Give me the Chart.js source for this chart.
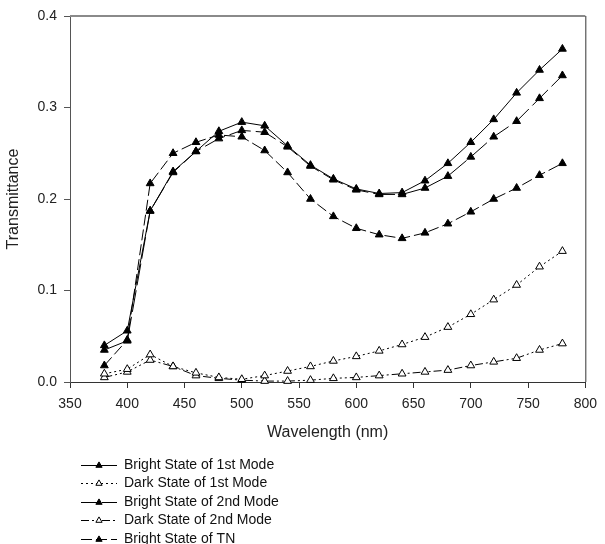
<!DOCTYPE html>
<html>
<head>
<meta charset="utf-8">
<script src="https://cdn.jsdelivr.net/npm/chart.js@4.4.0/dist/chart.umd.min.js"></script>
<style>
  html, body { margin: 0; padding: 0; background: #fff; }
  #wrap { width: 605px; height: 544px; }
</style>
</head>
<body>
<div id="wrap"><canvas id="grafica" width="605" height="544"></canvas></div>
<script>
/* Transmittance vs wavelength, five series */

const wavelengths = [380, 400, 420, 440, 460, 480, 500, 520, 540, 560, 580, 600, 620, 640, 660, 680, 700, 720, 740, 760, 780];

const brightMode1 = [0.040, 0.056, 0.187, 0.230, 0.252, 0.274, 0.284, 0.280, 0.258, 0.237, 0.222, 0.211, 0.206, 0.207, 0.220, 0.239, 0.262, 0.287, 0.316, 0.341, 0.364];
const darkMode1   = [0.009, 0.014, 0.030, 0.017, 0.010, 0.005, 0.003, 0.007, 0.012, 0.017, 0.023, 0.028, 0.034, 0.041, 0.049, 0.060, 0.074, 0.090, 0.106, 0.126, 0.143];
const brightMode2 = [0.035, 0.045, 0.187, 0.229, 0.252, 0.266, 0.275, 0.273, 0.257, 0.236, 0.221, 0.210, 0.205, 0.205, 0.212, 0.225, 0.246, 0.268, 0.285, 0.310, 0.335];
const darkMode2   = [0.005, 0.011, 0.024, 0.017, 0.007, 0.004, 0.002, 0.001, 0.001, 0.002, 0.004, 0.005, 0.007, 0.009, 0.011, 0.013, 0.018, 0.022, 0.026, 0.035, 0.042];
const brightTN    = [0.018, 0.046, 0.217, 0.250, 0.262, 0.270, 0.268, 0.253, 0.229, 0.200, 0.181, 0.168, 0.161, 0.157, 0.163, 0.173, 0.186, 0.200, 0.212, 0.226, 0.239];

const seriesLabels = ['Bright State of 1st Mode', 'Dark State of 1st Mode', 'Bright State of 2nd Mode', 'Dark State of 2nd Mode', 'Bright State of TN'];
const xTicks = [350, 400, 450, 500, 550, 600, 650, 700, 750, 800];
const yTicks = [0, 0.1, 0.2, 0.3, 0.4];

const FONT = '"Liberation Sans", Arial, sans-serif';
const INK = '#222';

const toPoints = (vals) => wavelengths.map((w, i) => ({ x: w, y: vals[i] }));

function serie(label, vals, dash, legendOffset, filled) {
  return {
    label,
    data: toPoints(vals),
    borderColor: '#000',
    borderWidth: 1,
    borderDash: dash,
    legendOffset,          // dash phase used only in the legend sample
    tension: 0,
    fill: false,
    clip: false,
    pointStyle: 'triangle',
    pointRadius: 4.5,
    pointBorderWidth: 1,
    pointBorderColor: '#000',
    pointBackgroundColor: filled ? '#000' : '#fff'
  };
}

// top / right frame of the plot box
const marco = {
  id: 'marco',
  afterDraw(chart) {
    const { ctx, chartArea: a } = chart;
    ctx.save();
    ctx.strokeStyle = '#8a8a8a';
    ctx.lineWidth = 2;
    ctx.beginPath(); ctx.moveTo(a.left, a.top); ctx.lineTo(a.right, a.top); ctx.stroke();
    ctx.strokeStyle = '#333';
    ctx.lineWidth = 1;
    ctx.beginPath(); ctx.moveTo(a.right + 0.5, a.top); ctx.lineTo(a.right + 0.5, a.bottom); ctx.stroke();
    ctx.restore();
  }
};

// legend stacked under the axis title
const leyenda = {
  id: 'leyenda',
  afterDraw(chart) {
    const ctx = chart.ctx;
    ctx.save();
    ctx.font = '14px ' + FONT;
    ctx.textBaseline = 'middle';
    chart.data.datasets.forEach((ds, i) => {
      const y = Math.round(465 + i * 18.4) + 0.5;
      ctx.strokeStyle = '#000';
      ctx.lineWidth = 1;
      ctx.setLineDash(ds.borderDash || []);
      ctx.lineDashOffset = ds.legendOffset || 0;
      ctx.beginPath(); ctx.moveTo(81, y); ctx.lineTo(117, y); ctx.stroke();
      ctx.setLineDash([]);
      ctx.fillStyle = ds.pointBackgroundColor;
      Chart.helpers.drawPoint(ctx, { pointStyle: 'triangle', radius: 3.6, borderWidth: 1, rotation: 0 }, 99, y);
      ctx.fillStyle = '#111';
      ctx.fillText(ds.label, 124, y);
    });
    ctx.restore();
  }
};

new Chart(document.getElementById('grafica').getContext('2d'), {
  type: 'line',
  data: {
    datasets: [
      serie(seriesLabels[0], brightMode1, [], 0, true),
      serie(seriesLabels[1], darkMode1, [2, 3], 0, false),
      serie(seriesLabels[2], brightMode2, [22, 5], 6, true),
      serie(seriesLabels[3], darkMode2, [8, 3, 2, 3, 2, 3], 0, false),
      serie(seriesLabels[4], brightTN, [11, 4], 0, true)
    ]
  },
  options: {
    responsive: false,
    animation: false,
    devicePixelRatio: 1,
    layout: { padding: { top: 16, right: 13, bottom: 102, left: 0 } },
    plugins: { legend: { display: false }, tooltip: { enabled: false } },
    scales: {
      x: {
        type: 'linear', min: 350, max: 800,
        afterBuildTicks: (s) => { s.ticks = xTicks.map(v => ({ value: v })); },
        afterFit: (s) => { s.height = 60; },
        ticks: { font: { family: FONT, size: 14 }, color: INK, padding: 8, maxRotation: 0, callback: (v) => String(v) },
        grid: { drawOnChartArea: false, tickLength: 6, color: '#333' },
        border: { color: '#333' },
        title: { display: true, text: 'Wavelength (nm)', color: INK, font: { family: FONT, size: 16 }, padding: 0 }
      },
      y: {
        min: 0, max: 0.4,
        afterBuildTicks: (s) => { s.ticks = yTicks.map(v => ({ value: v })); },
        afterFit: (s) => { s.width = 70; },
        ticks: { font: { family: FONT, size: 14 }, color: INK, padding: 7, callback: (v) => Number(v).toFixed(1) },
        grid: { drawOnChartArea: false, tickLength: 6, color: '#555' },
        border: { color: '#555' },
        title: { display: true, text: 'Transmittance', color: INK, font: { family: FONT, size: 16 }, padding: { top: 4, bottom: 0 } }
      }
    }
  },
  plugins: [marco, leyenda]
});
</script>
</body>
</html>
